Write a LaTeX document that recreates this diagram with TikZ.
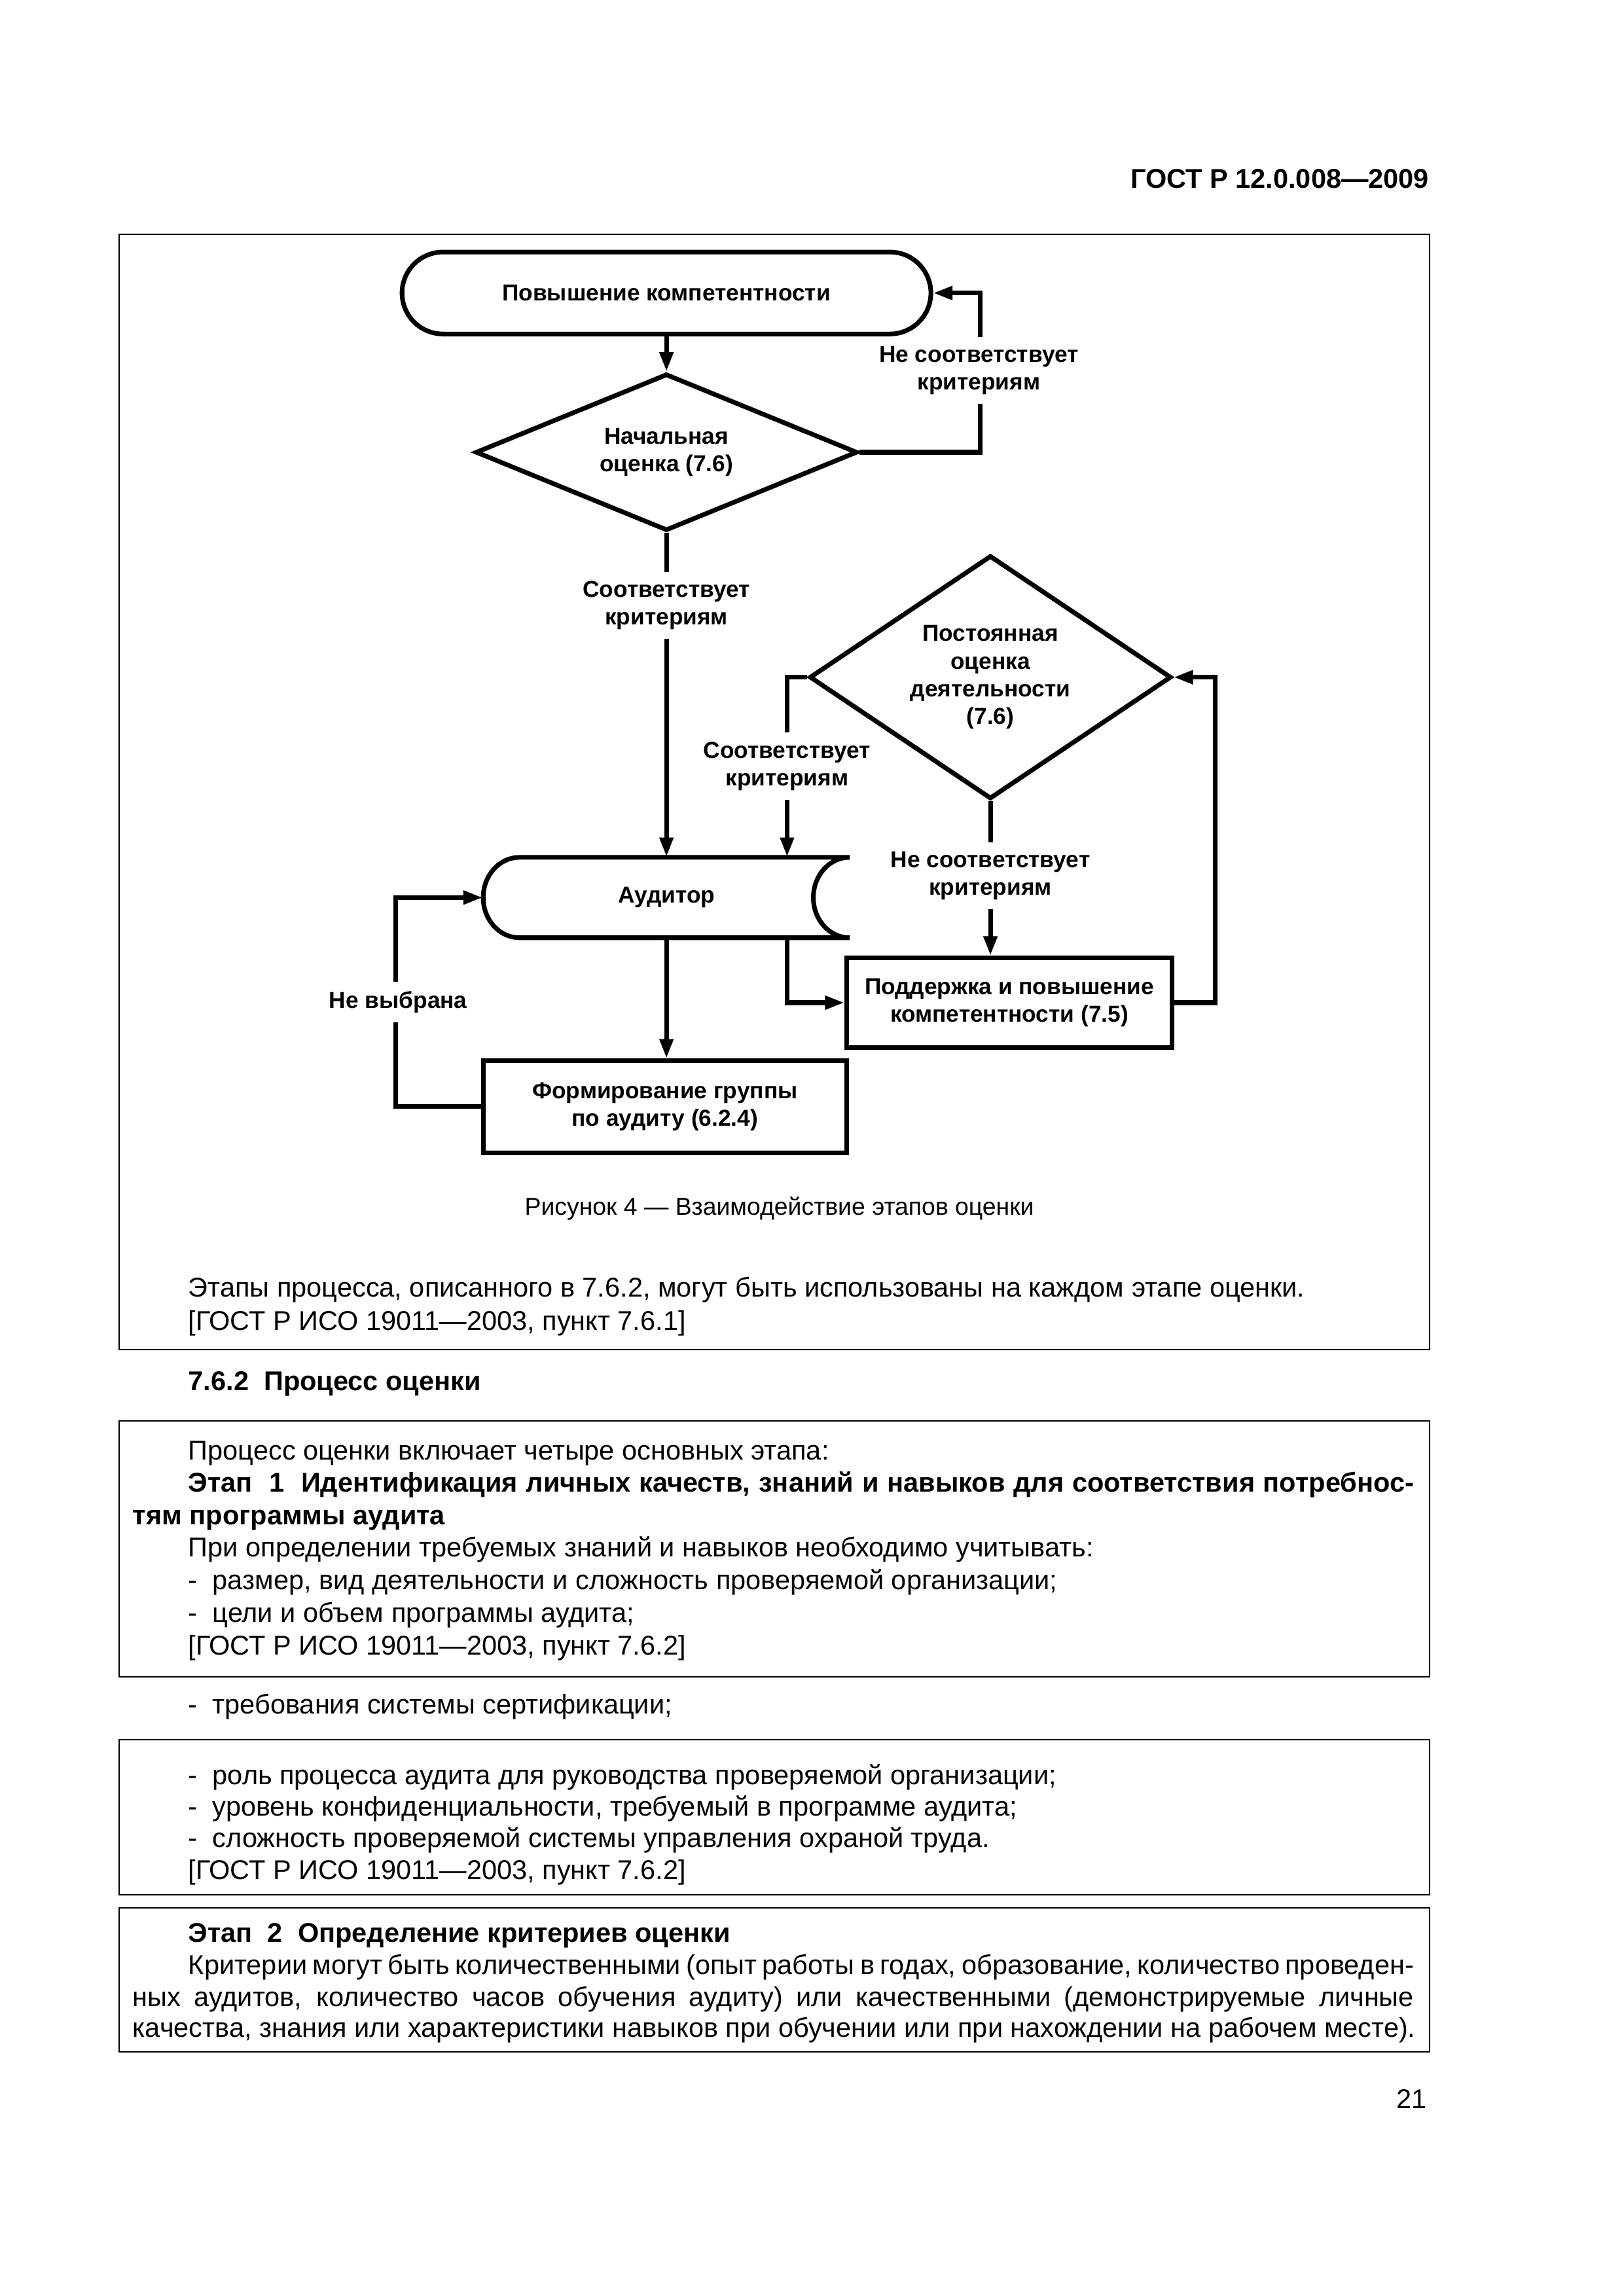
\documentclass[tikz,border=0pt]{standalone}
\usepackage{fontspec}
\setmainfont{Liberation Sans}
\usetikzlibrary{shapes.geometric,shapes.misc,arrows.meta}

\newcommand\flowfont{\bfseries\fontsize{8.5}{10.2}\selectfont}
\newcommand\bodyfont{\fontsize{10}{12}\selectfont}

\tikzset{
  flow/.style={line width=1.7pt, -{Triangle[length=2.5mm,width=1.7mm]}},
  flowline/.style={line width=1.7pt},
  block/.style={draw, line width=1.7pt, rectangle, align=center, inner sep=0pt, font=\flowfont},
  decision/.style={draw, line width=1.7pt, diamond, align=center, inner sep=0pt, font=\flowfont},
  terminal/.style={draw, line width=1.7pt, rounded rectangle, align=center, inner sep=0pt, font=\flowfont},
  answer/.style={fill=white, align=center, inner xsep=0.6mm, inner ysep=1.2mm, font=\flowfont},
  frame/.style={draw, line width=0.5pt},
  bodyline/.style={anchor=base west, inner sep=0pt, font=\bodyfont},
}

\begin{document}
\begin{tikzpicture}[x=1mm, y=-1mm]
	\useasboundingbox (0,0) rectangle (210,297);
	\fill[white] (0,0) rectangle (210,297);
	% page head
	\node[anchor=base east, inner sep=0pt, font=\bfseries\fontsize{10}{12}\selectfont] (head) at (184.9,24.3) {ГОСТ Р 12.0.008—2009};
	% frames
	\draw[frame] (15.4,30.3) rectangle (184.9,174.6);
	\draw[frame] (15.4,183.8) rectangle (184.9,216.9);
	\draw[frame] (15.4,225.0) rectangle (184.9,245.1);
	\draw[frame] (15.4,246.8) rectangle (184.9,265.4);
	% flowchart
	\node[terminal, minimum width=68.4mm, minimum height=10.6mm] (raise) at (86.2,37.9) {Повышение компетентности};
	\node[decision, aspect=2.4, minimum width=49.4mm, minimum height=20.3mm] (first) at (86.2,58.5) {Начальная\\оценка (7.6)};
	\node[decision, aspect=1.49, minimum width=46.8mm, minimum height=31.5mm] (steady) at (128.1,87.6) {Постоянная\\оценка\\деятельности\\(7.6)};
	\node[inner sep=0pt, minimum width=47.4mm, minimum height=10.4mm, font=\flowfont] (auditor) at (86.2,116.1) {Аудитор};
	\node[block, minimum width=42.1mm, minimum height=11.6mm] (support) at (130.55,129.7) {Поддержка и повышение\\компетентности (7.5)};
	\node[block, minimum width=47.0mm, minimum height=11.9mm] (team) at (86.0,143.15) {Формирование группы\\по аудиту (6.2.4)};
	\coordinate (split) at (101.8,116.1);
	% auditor shape
	\draw[flowline] (67.2,110.9) -- (109.9,110.9) .. controls (107.3,110.9) and (105.2,113.2) .. (105.2,116.1)
		.. controls (105.2,119.0) and (107.3,121.3) .. (109.9,121.3) -- (67.2,121.3)
		.. controls (64.6,121.3) and (62.5,119.0) .. (62.5,116.1) .. controls (62.5,113.2) and (64.6,110.9) .. (67.2,110.9);
	% connectors
	\draw[flow] (raise.south) -- (first.north);
	\draw[flow] (first.east) -- ++(15.6,0) |- (raise.east);
	\draw[flow] (first.south) -- (auditor.north);
	\draw[flow] (steady.west) -| (split |- auditor.north);
	\draw[flow] (steady.south) -- (steady.south |- support.north);
	\draw[flow] (support.east) -- ++(5.3,0) |- (steady.east);
	\draw[flow] (split |- auditor.south) |- (support.west);
	\draw[flow] (auditor.south) -- (auditor.south |- team.north);
	\draw[flow] (team.west) -- ++(-11,0) |- (auditor.west);
	% answers
	\node[answer] (nofit1) at (126.6,47.9) {Не соответствует\\критериям};
	\node[answer] (fit1) at (86.2,78.3) {Соответствует\\критериям};
	\node[answer] (fit2) at (101.8,99.1) {Соответствует\\критериям};
	\node[answer] (nofit2) at (128.1,113.3) {Не соответствует\\критериям};
	\node[answer] (notsel) at (51.5,129.6) {Не выбрана};
	% caption
	\node[anchor=base, inner sep=0pt, font=\fontsize{9}{11}\selectfont] (caption) at (100.8,157.2) {Рисунок 4 — Взаимодействие этапов оценки};
	% text
	\node[bodyline] (t1) at (24.3,167.8) {Этапы процесса, описанного в 7.6.2, могут быть использованы на каждом этапе оценки.};
	\node[bodyline] (t2) at (24.3,172.1) {[ГОСТ Р ИСО 19011—2003, пункт 7.6.1]};
	\node[bodyline, font=\bodyfont\bfseries] (sect) at (24.3,179.9) {7.6.2~~Процесс оценки};
	\node[bodyline] (b1) at (24.3,188.8) {Процесс оценки включает четыре основных этапа:};
	\node[bodyline, font=\bodyfont\bfseries] (b2) at (24.3,193.0) {\makebox[158.5mm][s]{Этап~~1~~Идентификация личных качеств, знаний и навыков для соответствия потребнос-}};
	\node[bodyline, font=\bodyfont\bfseries] (b3) at (17.1,197.2) {тям программы аудита};
	\node[bodyline] (b4) at (24.3,201.4) {При определении требуемых знаний и навыков необходимо учитывать:};
	\node[bodyline] (b5) at (24.3,205.6) {-~~размер, вид деятельности и сложность проверяемой организации;};
	\node[bodyline] (b6) at (24.3,209.8) {-~~цели и объем программы аудита;};
	\node[bodyline] (b7) at (24.3,214.1) {[ГОСТ Р ИСО 19011—2003, пункт 7.6.2]};
	\node[bodyline] (c1) at (24.3,221.7) {-~~требования системы сертификации;};
	\node[bodyline] (e1) at (24.3,230.8) {-~~роль процесса аудита для руководства проверяемой организации;};
	\node[bodyline] (e2) at (24.3,234.9) {-~~уровень конфиденциальности, требуемый в программе аудита;};
	\node[bodyline] (e3) at (24.3,239.0) {-~~сложность проверяемой системы управления охраной труда.};
	\node[bodyline] (e4) at (24.3,243.1) {[ГОСТ Р ИСО 19011—2003, пункт 7.6.2]};
	\node[bodyline, font=\bodyfont\bfseries] (d1) at (24.3,251.2) {Этап~~2~~Определение критериев оценки};
	\node[bodyline] (d2) at (24.3,255.4) {\makebox[158.5mm][s]{Критерии могут быть количественными (опыт работы в годах, образование, количество проведен-}};
	\node[bodyline] (d3) at (17.1,259.5) {\makebox[165.7mm][s]{ных аудитов, количество часов обучения аудиту) или качественными (демонстрируемые личные}};
	\node[bodyline] (d4) at (17.1,263.5) {качества, знания или характеристики навыков при обучении или при нахождении на рабочем месте).};
	% page number
	\node[anchor=base east, inner sep=0pt, font=\bodyfont] (pageno) at (184.6,272.7) {21};
\end{tikzpicture}
\end{document}
